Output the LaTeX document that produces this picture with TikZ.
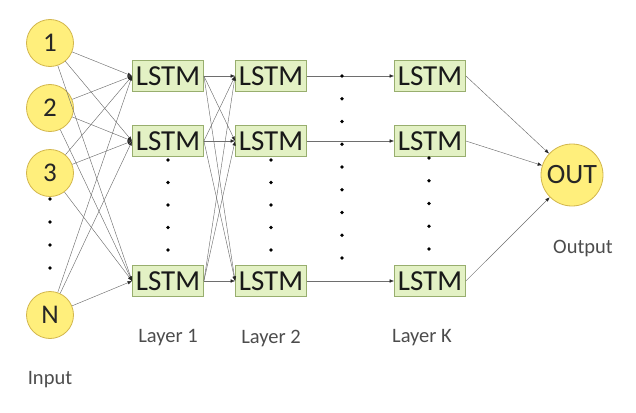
\documentclass[tikz,border=0pt]{standalone}
\usepackage{fontspec}
\setmainfont{Carlito}
\usetikzlibrary{arrows.meta}
\definecolor{cellfill}{HTML}{E3F1C4}
\definecolor{celldraw}{HTML}{98AE6E}
\definecolor{unitfill}{HTML}{FFEF7C}
\definecolor{unitdraw}{HTML}{D2B64C}
\definecolor{wire}{HTML}{6E6E6E}
\tikzset{
  unit/.style={circle, fill=unitfill, draw=unitdraw, line width=0.8pt, minimum size=47pt, inner sep=0pt, font=\fontsize{27}{27}\selectfont, text=black!85},
  cell/.style={rectangle, fill=cellfill, draw=celldraw, line width=0.8pt, minimum width=71pt, minimum height=31pt, inner sep=0pt, font=\fontsize{29}{29}\selectfont, text=black!90},
  tag/.style={font=\fontsize{20.5}{20.5}\selectfont, text=black!70},
  wire/.style={draw=wire, line width=0.45pt, -{Latex[length=4.5pt,width=3.5pt,color=black!85]}},
}
\def\dotcol(#1)(#2:#3:#4){\foreach \k in {0,...,#4} \fill (#1, {#2+\k*#3}) circle (1.9pt);}
\begin{document}
\begin{tikzpicture}[x=1pt, y=-1pt]
			%%%%% START %%%%%
			
			\useasboundingbox (0, 0) rectangle (636, 412);
			
			\node[unit] (in1) at (50, 43) {1};
			\node[unit] (in2) at (50, 108) {2};
			\node[unit] (in3) at (50, 173) {3};
			\node[unit] (inN) at (50, 315) {N};
			\dotcol(50)(199:23:3)
			
			\node[cell] (a1) at (168, 76) {LSTM};
			\node[cell] (a2) at (168, 141) {LSTM};
			\node[cell] (a3) at (168, 281) {LSTM};
			
			\node[cell] (b1) at (271, 76) {LSTM};
			\node[cell] (b2) at (271, 141) {LSTM};
			\node[cell] (b3) at (271, 281) {LSTM};
			
			\node[cell] (k1) at (430, 76) {LSTM};
			\node[cell] (k2) at (430, 141) {LSTM};
			\node[cell] (k3) at (430, 281) {LSTM};
			
			\node[unit, minimum size=62pt, font=\fontsize{28}{28}\selectfont] (out) at (572, 175) {OUT};
			
			\draw[wire] (in1) -- (a1.west);
			\draw[wire] (in1) -- (a2.west);
			\draw[wire] (in1) -- (a3.west);
			\draw[wire] (in2) -- (a1.west);
			\draw[wire] (in2) -- (a2.west);
			\draw[wire] (in2) -- (a3.west);
			\draw[wire] (in3) -- (a1.west);
			\draw[wire] (in3) -- (a2.west);
			\draw[wire] (in3) -- (a3.west);
			\draw[wire] (inN) -- (a1.west);
			\draw[wire] (inN) -- (a2.west);
			\draw[wire] (inN) -- (a3.west);
			
			\draw[wire] (a1.east) -- (b1.west);
			\draw[wire] (a1.east) -- (b2.west);
			\draw[wire] (a1.east) -- (b3.west);
			\draw[wire] (a2.east) -- (b1.west);
			\draw[wire] (a2.east) -- (b2.west);
			\draw[wire] (a2.east) -- (b3.west);
			\draw[wire] (a3.east) -- (b1.west);
			\draw[wire] (a3.east) -- (b2.west);
			\draw[wire] (a3.east) -- (b3.west);
			
			\draw[wire] (b1.east) -- (k1.west);
			\draw[wire] (b2.east) -- (k2.west);
			\draw[wire] (b3.east) -- (k3.west);
			
			\draw[wire] (k1.east) -- (out);
			\draw[wire] (k2.east) -- (out);
			\draw[wire] (k3.east) -- (out);
			
			\dotcol(168)(160:22.5:4)
			\dotcol(271)(160:22.5:4)
			\dotcol(342)(76:22.75:8)
			\dotcol(429)(158:22.75:4)
			
			\node[tag] (lab1) at (168, 338) {Layer 1};
			\node[tag] (lab2) at (271, 338) {Layer 2};
			\node[tag] (labK) at (422, 338) {Layer K};
			\node[tag] (labout) at (583, 248) {Output};
			\node[tag] (labin) at (50, 380) {Input};
			
			%%%%% END %%%%%
\end{tikzpicture}
\end{document}
